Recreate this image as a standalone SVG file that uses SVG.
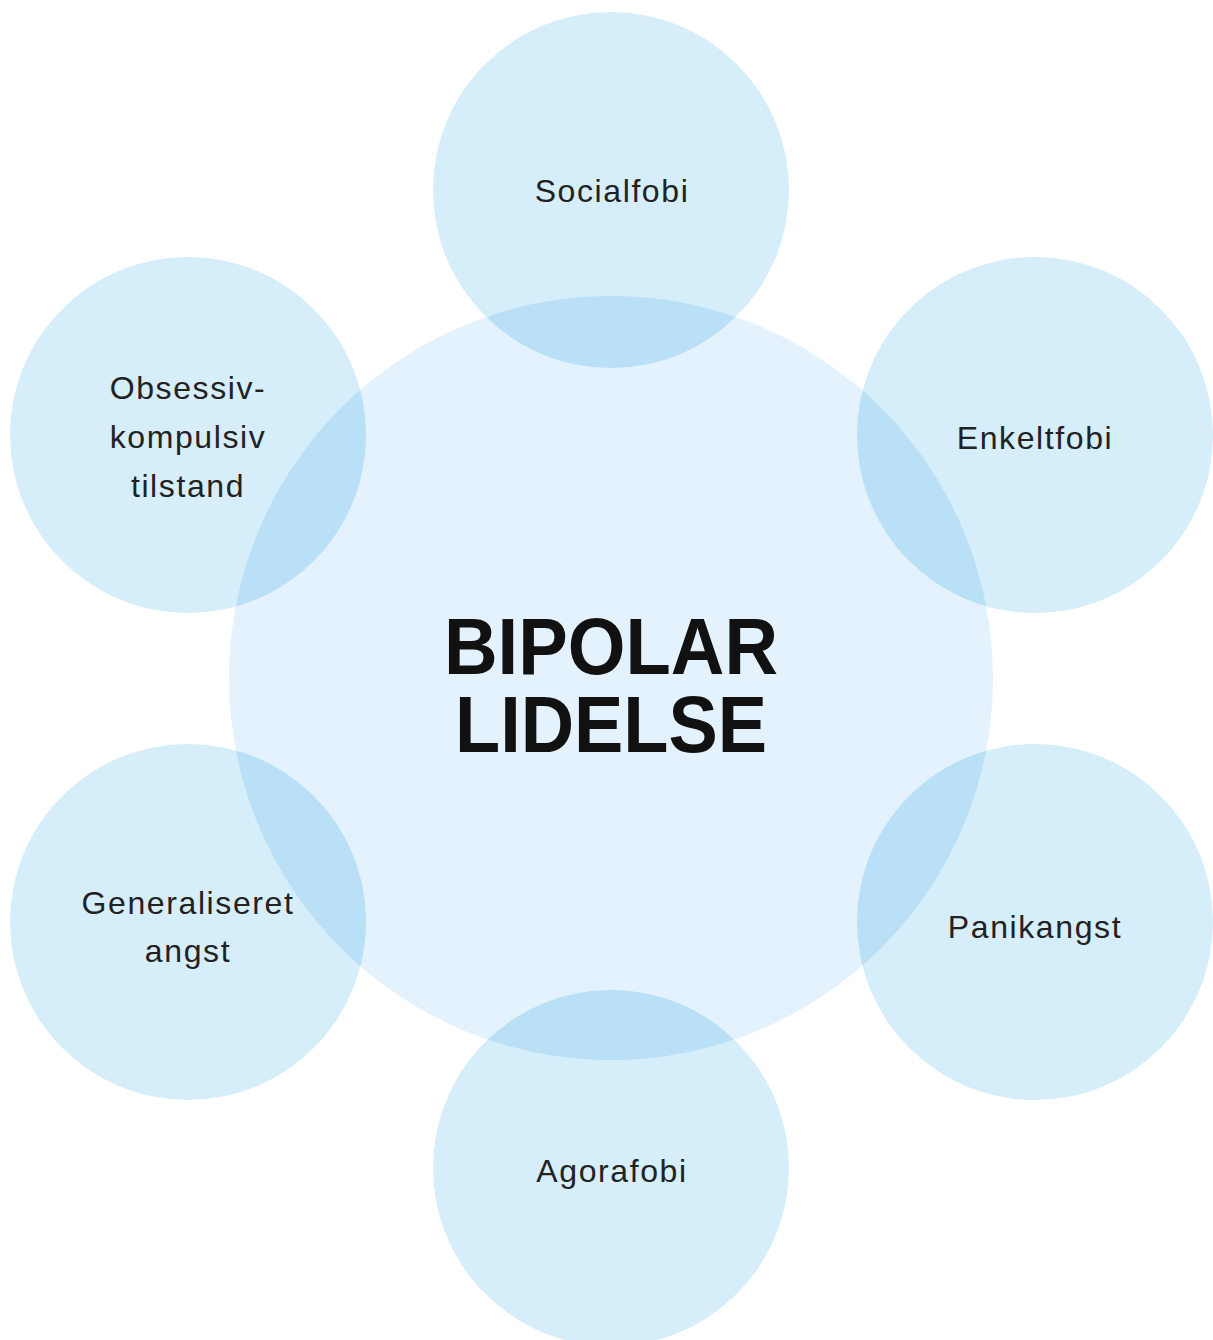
<svg xmlns="http://www.w3.org/2000/svg" xmlns:xlink="http://www.w3.org/1999/xlink" width="1213" height="1340" viewBox="0 0 1213 1340">
<style>
.big{fill:#e3f2fc}
.small{fill:#d6edfa}
.ov{fill:#b9e0f6}
.lbl{font-family:"Liberation Sans",Arial,sans-serif;font-size:32px;fill:#222;text-anchor:middle;letter-spacing:1.6px}
.title{font-family:"Liberation Sans",Arial,sans-serif;font-size:79px;font-weight:bold;fill:#111;text-anchor:middle}
</style>
<defs>
<clipPath id="bigclip"><circle cx="611" cy="678" r="382"/></clipPath>
<circle id="c1" cx="611" cy="190" r="178"/>
<circle id="c2" cx="1035" cy="435" r="178"/>
<circle id="c3" cx="1035" cy="922" r="178"/>
<circle id="c4" cx="611" cy="1168" r="178"/>
<circle id="c5" cx="188" cy="922" r="178"/>
<circle id="c6" cx="188" cy="435" r="178"/>
</defs>
<rect width="1213" height="1340" fill="#ffffff"/>
<g id="center">
<circle class="big" cx="611" cy="678" r="382"/>
</g>
<g id="socialfobi"><use xlink:href="#c1" class="small"/><use xlink:href="#c1" class="ov" clip-path="url(#bigclip)"/><text class="lbl" x="612" y="202">Socialfobi</text></g>
<g id="enkeltfobi"><use xlink:href="#c2" class="small"/><use xlink:href="#c2" class="ov" clip-path="url(#bigclip)"/><text class="lbl" x="1035" y="449">Enkeltfobi</text></g>
<g id="panikangst"><use xlink:href="#c3" class="small"/><use xlink:href="#c3" class="ov" clip-path="url(#bigclip)"/><text class="lbl" x="1035" y="938">Panikangst</text></g>
<g id="agorafobi"><use xlink:href="#c4" class="small"/><use xlink:href="#c4" class="ov" clip-path="url(#bigclip)"/><text class="lbl" x="612" y="1182">Agorafobi</text></g>
<g id="generaliseret"><use xlink:href="#c5" class="small"/><use xlink:href="#c5" class="ov" clip-path="url(#bigclip)"/><text class="lbl" x="188" y="914">Generaliseret</text><text class="lbl" x="188" y="962">angst</text></g>
<g id="obsessiv"><use xlink:href="#c6" class="small"/><use xlink:href="#c6" class="ov" clip-path="url(#bigclip)"/><text class="lbl" x="188" y="399">Obsessiv-</text><text class="lbl" x="188" y="448">kompulsiv</text><text class="lbl" x="188" y="497">tilstand</text></g>
<g id="center-label">
<text class="title" x="611" y="674" textLength="334" lengthAdjust="spacingAndGlyphs">BIPOLAR</text>
<text class="title" x="611" y="752" textLength="312" lengthAdjust="spacingAndGlyphs">LIDELSE</text>
</g>
<g id="connectors"/>
</svg>
